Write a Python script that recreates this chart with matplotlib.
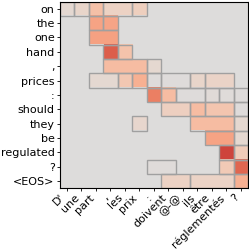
import matplotlib
matplotlib.use("Agg")
import matplotlib.pyplot as plt
from matplotlib.patches import Rectangle
import numpy as np

# source (x) and target (y) tokens
src_tokens = ["D'", "une", "part", ",", "les", "prix", ":", "doivent",
              "@-@", "ils", "être", "réglementés", "?"]
tgt_tokens = ["on", "the", "one", "hand", ",", "prices", ":", "should",
              "they", "be", "regulated", "?", "<EOS>"]

# attention weights, one row per target token (0 = no box)
weights = [
    [0.06, 0.10, 0.28, 0.13, 0.13, 0.16, 0, 0, 0, 0, 0, 0, 0],
    [0, 0, 0.45, 0.44, 0, 0, 0, 0, 0, 0, 0, 0, 0],
    [0, 0, 0.46, 0.46, 0, 0, 0, 0, 0, 0, 0, 0, 0],
    [0, 0, 0, 0.75, 0.25, 0, 0, 0, 0, 0, 0, 0, 0],
    [0, 0, 0, 0.30, 0.30, 0.30, 0.07, 0, 0, 0, 0, 0, 0],
    [0, 0, 0.06, 0.06, 0.22, 0.38, 0.01, 0.015, 0.015, 0.10, 0.11, 0.11, 0],
    [0, 0, 0, 0, 0, 0, 0.62, 0.30, 0.01, 0.01, 0.03, 0.02, 0.015],
    [0, 0, 0, 0, 0, 0, 0, 0.15, 0.15, 0.30, 0.24, 0.24, 0.01],
    [0, 0, 0, 0, 0, 0.08, 0, 0, 0, 0.30, 0.30, 0.30, 0.07],
    [0, 0, 0, 0, 0, 0, 0, 0, 0, 0, 0.45, 0.45, 0.07],
    [0, 0, 0, 0, 0, 0, 0, 0, 0, 0, 0, 0.85, 0.18],
    [0, 0, 0, 0, 0, 0, 0.02, 0.02, 0, 0, 0, 0.20, 0.72],
    [0, 0, 0, 0, 0, 0, 0, 0.13, 0.13, 0.12, 0.12, 0.12, 0.38],
]

mat = np.array(weights)

fig = plt.figure(figsize=(2.49, 2.52), dpi=100)
ax = fig.add_axes([0.239, 0.253, 0.757, 0.741])
ax.imshow(mat, cmap="coolwarm", vmin=-1, vmax=1, aspect="auto",
          interpolation="nearest")

# box around every run of equal non-zero weights in a row
for r, row in enumerate(weights):
    c = 0
    while c < len(row):
        if row[c] == 0:
            c += 1
            continue
        start = c
        while c + 1 < len(row) and row[c + 1] == row[start]:
            c += 1
        ax.add_patch(Rectangle((start - 0.5, r - 0.5), c - start + 1, 1,
                               fill=False, edgecolor="#a0a0a0", lw=1.0))
        c += 1

ax.set_xticks(range(len(src_tokens)))
ax.set_xticklabels(src_tokens, rotation=45, ha="right", fontsize=8)
ax.set_yticks(range(len(tgt_tokens)))
ax.set_yticklabels(tgt_tokens, fontsize=8)
ax.tick_params(length=2.5, width=0.6, pad=1)
ax.tick_params(axis="x", pad=0.5)
ax.set_xlim(-0.5, len(src_tokens) - 0.5)
ax.set_ylim(len(tgt_tokens) - 0.5, -0.5)

fig.savefig("out.png", dpi=100)
